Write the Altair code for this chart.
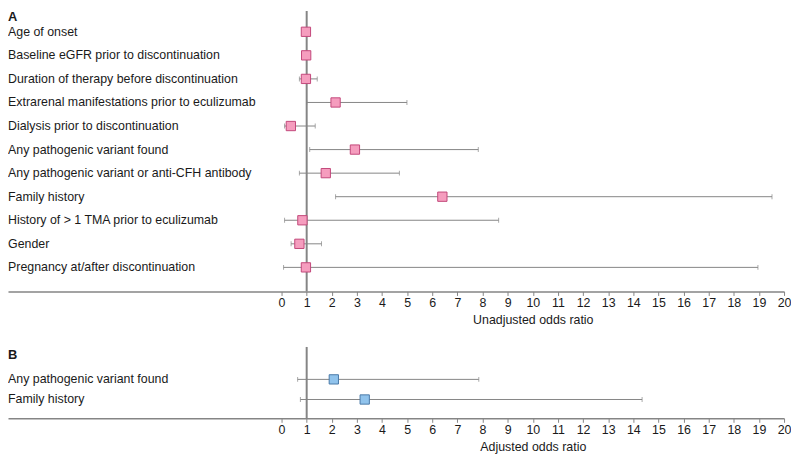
import altair as alt
import pandas as pd

# ---- data ----
labels_a = [
    "Age of onset",
    "Baseline eGFR prior to discontinuation",
    "Duration of therapy before discontinuation",
    "Extrarenal manifestations prior to eculizumab",
    "Dialysis prior to discontinuation",
    "Any pathogenic variant found",
    "Any pathogenic variant or anti-CFH antibody",
    "Family history",
    "History of > 1 TMA prior to eculizumab",
    "Gender",
    "Pregnancy at/after discontinuation",
]
or_a = [0.97, 0.98, 0.97, 2.15, 0.37, 2.92, 1.76, 6.40, 0.83, 0.71, 0.97]
lo_a = [0.94, 0.95, 0.71, 1.00, 0.12, 1.12, 0.71, 2.15, 0.12, 0.38, 0.08]
hi_a = [1.00, 1.01, 1.42, 4.99, 1.34, 7.83, 4.69, 19.52, 8.64, 1.59, 18.96]

labels_b = ["Any pathogenic variant found", "Family history"]
or_b = [2.08, 3.31]
lo_b = [0.64, 0.75]
hi_b = [7.85, 14.35]

tick_values = list(range(0, 21))
ref_value = 1

FONT = "Liberation Sans"
W = 783
X0PX = 276
UNIT = (W - X0PX) / 20.0
XMIN = -X0PX / UNIT
GRAY = "#858585"
TEXT = "#1a1a1a"


def panel(labels, ors, los, his, letter, letter_y, title, fill, stroke, height, first_y, step):
    n = len(labels)
    df = pd.DataFrame({"label": labels, "or": ors, "lo": los, "hi": his, "row": list(range(n))})
    xs = alt.Scale(domain=[XMIN, 20], nice=False, zero=False)
    ys = alt.Scale(domain=[-first_y / step, (height - first_y) / step], reverse=True, nice=False, zero=False)
    axis = alt.Axis(
        values=tick_values, grid=False, format="d",
        domainColor=GRAY, domainWidth=1.5,
        tickColor=GRAY, tickSize=4, tickWidth=1,
        labelFont=FONT, labelFontSize=12.5, labelColor=TEXT, labelPadding=1,
        labelFlush=False, labelOverlap=False,
        titleFont=FONT, titleFontSize=12.5, titleFontWeight="normal", titleColor=TEXT,
        titlePadding=5, titleX=(10 - XMIN) * UNIT, titleAlign="center",
    )

    def X(field):
        return alt.X(field, type="quantitative", scale=xs, axis=axis, title=title)

    def Y():
        return alt.Y("row:Q", scale=ys, axis=None)

    base = alt.Chart(df)
    ci = base.mark_rule(color=GRAY, strokeWidth=1).encode(x=X("lo"), x2="hi", y=Y())
    cap_lo = base.mark_tick(orient="vertical", size=5, thickness=1, color=GRAY).encode(x=X("lo"), y=Y())
    cap_hi = base.mark_tick(orient="vertical", size=5, thickness=1, color=GRAY).encode(x=X("hi"), y=Y())
    ref = alt.Chart(pd.DataFrame({"ref": [ref_value]})).mark_rule(color=GRAY, strokeWidth=2).encode(
        x=X("ref"), y=alt.value(0), y2=alt.value(height)
    )
    sq = base.mark_square(size=88, filled=True, fill=fill, stroke=stroke, strokeWidth=1, opacity=1).encode(
        x=X("or"), y=Y()
    )
    txt = base.mark_text(align="left", baseline="middle", font=FONT, fontSize=12.5, color=TEXT).encode(
        x=alt.value(0), y=Y(), text="label:N"
    )
    let = alt.Chart(pd.DataFrame({"t": [letter]})).mark_text(
        align="left", baseline="top", font=FONT, fontSize=13, fontWeight="bold", color=TEXT
    ).encode(x=alt.value(0), y=alt.value(letter_y), text="t:N")
    return alt.layer(ref, ci, cap_lo, cap_hi, sq, txt, let).properties(width=W, height=height)


pa = panel(labels_a, or_a, lo_a, hi_a, "A", 0, "Unadjusted odds ratio", "#F59DBE", "#C2487A", 283, 21, 23.77)
pb = panel(labels_b, or_b, lo_b, hi_b, "B", 2, "Adjusted odds ratio", "#90C3EC", "#4A79A8", 72, 32.7, 20.3)

chart = alt.vconcat(pa, pb, spacing=20).properties(padding=0, background="white").configure_view(stroke=None)

chart.save("out.html", embed_options={"renderer": "svg", "actions": False})
